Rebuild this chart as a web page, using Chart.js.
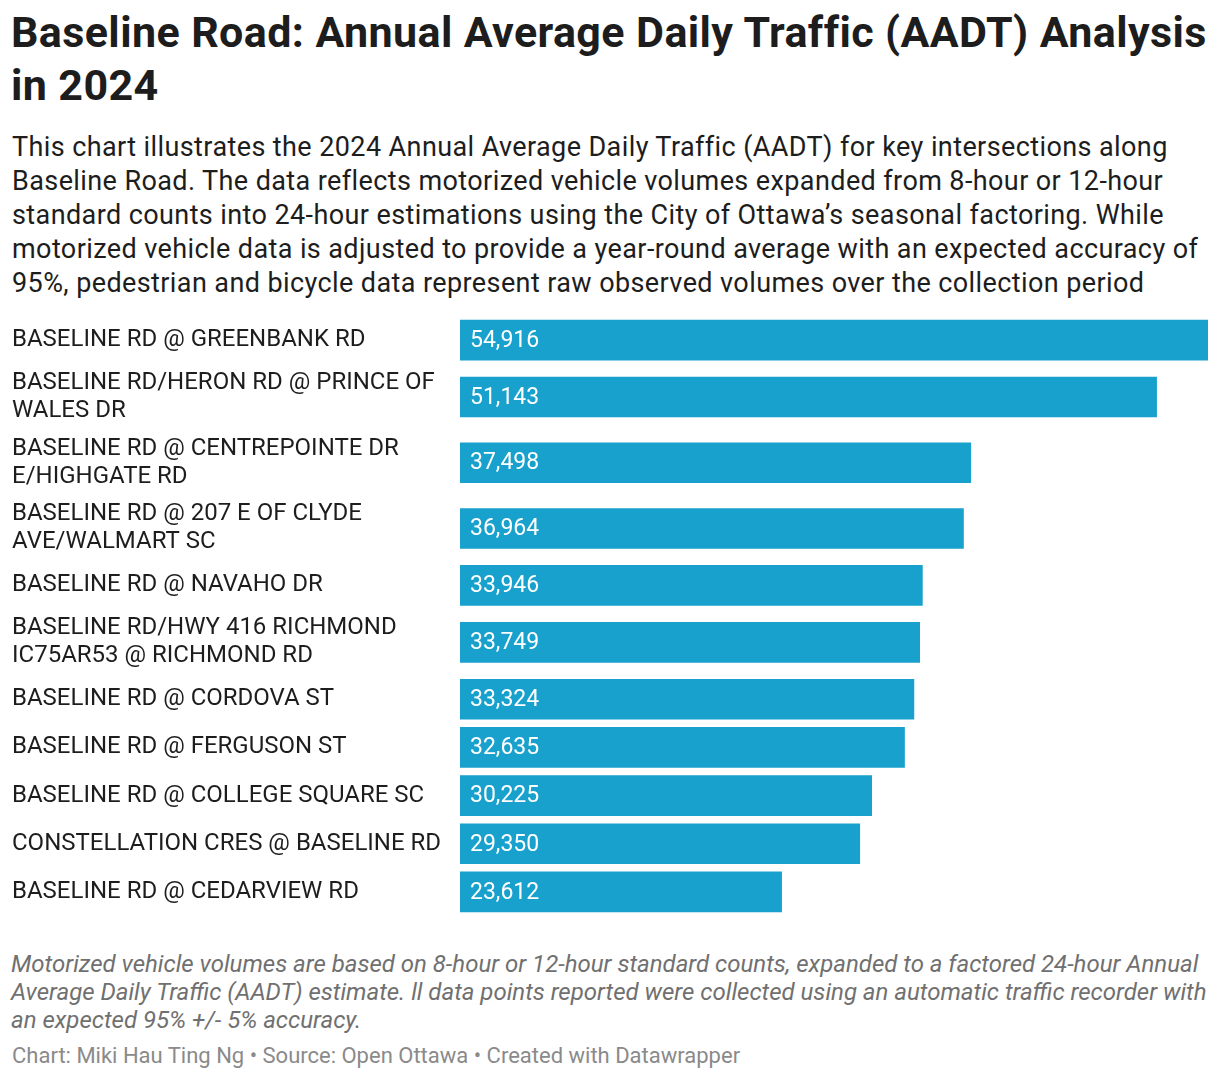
<!DOCTYPE html>
<html>
<head>
<meta charset="utf-8">
<script src="https://cdn.jsdelivr.net/npm/chart.js@4.4.1/dist/chart.umd.min.js"></script>
<style>
  body { margin: 0; background: #fff; font-family: Roboto, sans-serif; color: #1d1d1d; }
  .wrap { width: 1220px; padding: 0 0 0 11px; box-sizing: border-box; }
  h1 { width: 1209px; font-size: 43px; font-weight: 700; line-height: 53px; margin: 6px 0 0 0; letter-spacing: 0.4px; color: #1d1d1d; }
  .sub { width: 1207px; font-size: 27px; line-height: 34px; margin: 18px 0 0 1px; letter-spacing: 0.4px; color: #1d1d1d; }
  .chart { position: relative; width: 1196px; height: 600px; margin: 16px 0 0 1px; }
  .notes { width: 1215px; font-size: 24px; line-height: 28px; font-style: italic; color: #707070; margin: 34px 0 0 0; letter-spacing: 0; }
  .foot { font-size: 22px; line-height: 24px; color: #8a8a8a; margin: 10px 0 0 1px; }
</style>
</head>
<body>
<div class="wrap">
  <h1>Baseline Road: Annual Average Daily Traffic (AADT) Analysis in 2024</h1>
  <div class="sub">This chart illustrates the 2024 Annual Average Daily Traffic (AADT) for key intersections along Baseline Road. The data reflects motorized vehicle volumes expanded from 8-hour or 12-hour standard counts into 24-hour estimations using the City of Ottawa’s seasonal factoring. While motorized vehicle data is adjusted to provide a year-round average with an expected accuracy of 95%, pedestrian and bicycle data represent raw observed volumes over the collection period</div>
  <div class="chart"><canvas id="aadtChart"></canvas></div>
  <div class="notes">Motorized vehicle volumes are based on 8-hour or 12-hour standard counts, expanded to a factored 24-hour Annual Average Daily Traffic (AADT) estimate. ll data points reported were collected using an automatic traffic recorder with an expected 95% +/- 5% accuracy.</div>
  <div class="foot">Chart: Miki Hau Ting Ng • Source: Open Ottawa • Created with Datawrapper</div>
</div>
<script>
// intersections (label lines as shown)
const intersections = [
    ['BASELINE RD @ GREENBANK RD'],
    ['BASELINE RD/HERON RD @ PRINCE OF', 'WALES DR'],
    ['BASELINE RD @ CENTREPOINTE DR', 'E/HIGHGATE RD'],
    ['BASELINE RD @ 207 E OF CLYDE', 'AVE/WALMART SC'],
    ['BASELINE RD @ NAVAHO DR'],
    ['BASELINE RD/HWY 416 RICHMOND', 'IC75AR53 @ RICHMOND RD'],
    ['BASELINE RD @ CORDOVA ST'],
    ['BASELINE RD @ FERGUSON ST'],
    ['BASELINE RD @ COLLEGE SQUARE SC'],
    ['CONSTELLATION CRES @ BASELINE RD'],
    ['BASELINE RD @ CEDARVIEW RD']
];

// AADT 2024
const aadt = [54916, 51143, 37498, 36964, 33946, 33749, 33324, 32635, 30225, 29350, 23612];

// row heights depend on the number of label lines
const ROW_ONE = 48;
const ROW_TWO = 65.5;
const rowCenters = [];
let acc = 0;
intersections.forEach(lines => {
    const h = lines.length > 1 ? ROW_TWO : ROW_ONE;
    rowCenters.push(acc + h / 2);
    acc += h;
});
const totalHeight = acc;

// values written inside bars
const valueLabels = {
    id: 'valueLabels',
    afterDatasetsDraw(chart) {
        const ctx = chart.ctx;
        const meta = chart.getDatasetMeta(0);
        ctx.save();
        ctx.font = '23px Roboto';
        ctx.fillStyle = '#ffffff';
        ctx.textAlign = 'left';
        ctx.textBaseline = 'middle';
        meta.data.forEach((bar, i) => {
            ctx.fillText(aadt[i].toLocaleString('en-US'), bar.base + 10, bar.y + 1);
        });
        ctx.restore();
    }
};

new Chart(document.getElementById('aadtChart'), {
    type: 'bar',
    data: {
        datasets: [{
            data: aadt.map((v, i) => ({ x: v, y: rowCenters[i] })),
            backgroundColor: '#18a1cd',
            barThickness: 40
        }]
    },
    options: {
        indexAxis: 'y',
        responsive: true,
        maintainAspectRatio: false,
        animation: false,
        layout: { padding: 0, autoPadding: false },
        plugins: {
            legend: { display: false },
            tooltip: { enabled: false }
        },
        scales: {
            x: {
                display: false,
                min: 0,
                max: Math.max(...aadt)
            },
            y: {
                type: 'linear',
                reverse: true,
                offset: false,
                min: 0,
                max: totalHeight,
                grid: { display: false, offset: false },
                border: { display: false },
                afterBuildTicks: scale => {
                    scale.ticks = rowCenters.map(v => ({ value: v }));
                },
                afterFit: scale => {
                    scale.width = 448;
                    scale.paddingTop = 0;
                    scale.paddingBottom = 0;
                },
                ticks: {
                    autoSkip: false,
                    crossAlign: 'far',
                    padding: 0,
                    color: '#1d1d1d',
                    font: { family: 'Roboto', size: 24, lineHeight: 1.1667 },
                    callback: (value, index) => intersections[index]
                }
            }
        }
    },
    plugins: [valueLabels]
});
</script>
</body>
</html>
